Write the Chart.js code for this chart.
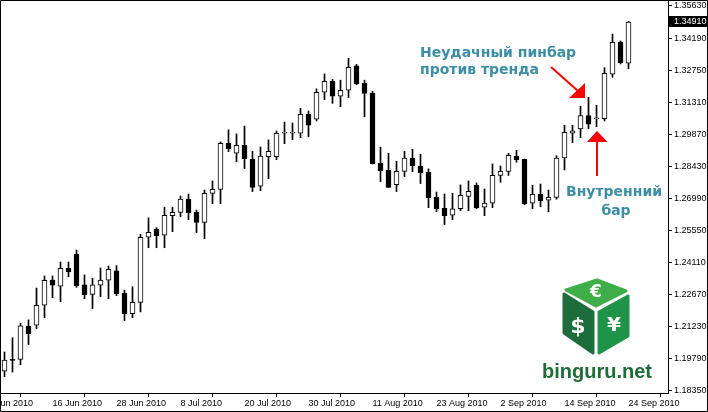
<!DOCTYPE html>
<html lang="ru">

<head>
    <meta charset="UTF-8">
    <title>EUR/USD D1</title>
    <style>
        body {
            margin: 0;
            padding: 0;
            background: #fff;
        }

        #wrap {
            width: 708px;
            height: 412px;
        }
    </style>
</head>

<body>
    <div id="wrap">
        <canvas id="chart" width="708" height="412"></canvas>
    </div>

    <script src="https://cdn.jsdelivr.net/npm/chart.js"></script>
    <script>
        // daily bars, 8 Jun 2010 - 24 Sep 2010
        const dates = [
            '8 Jun', '9 Jun', '10 Jun', '11 Jun', '14 Jun', '15 Jun', '16 Jun', '17 Jun', '18 Jun', '21 Jun',
            '22 Jun', '23 Jun', '24 Jun', '25 Jun', '28 Jun', '29 Jun', '30 Jun', '1 Jul', '2 Jul', '5 Jul',
            '6 Jul', '7 Jul', '8 Jul', '9 Jul', '12 Jul', '13 Jul', '14 Jul', '15 Jul', '16 Jul', '19 Jul',
            '20 Jul', '21 Jul', '22 Jul', '23 Jul', '26 Jul', '27 Jul', '28 Jul', '29 Jul', '30 Jul', '2 Aug',
            '3 Aug', '4 Aug', '5 Aug', '6 Aug', '9 Aug', '10 Aug', '11 Aug', '12 Aug', '13 Aug', '16 Aug',
            '17 Aug', '18 Aug', '19 Aug', '20 Aug', '23 Aug', '24 Aug', '25 Aug', '26 Aug', '27 Aug', '30 Aug',
            '31 Aug', '1 Sep', '2 Sep', '3 Sep', '6 Sep', '7 Sep', '8 Sep', '9 Sep', '10 Sep', '13 Sep',
            '14 Sep', '15 Sep', '16 Sep', '17 Sep', '20 Sep', '21 Sep', '22 Sep', '23 Sep', '24 Sep'
        ];

        const opens = [
            1.1924, 1.1977, 1.1977, 1.2126, 1.2130, 1.2220, 1.2333, 1.2305, 1.2386, 1.2449,
            1.2311, 1.2269, 1.2310, 1.2332, 1.2374, 1.2275, 1.2182, 1.2233, 1.2525, 1.2562,
            1.2534, 1.2622, 1.2637, 1.2696, 1.2637, 1.2592, 1.2722, 1.2740, 1.2947, 1.2902,
            1.2938, 1.2875, 1.2754, 1.2887, 1.2887, 1.2992, 1.2992, 1.2992, 1.3077, 1.3055,
            1.3176, 1.3225, 1.3158, 1.3185, 1.3294, 1.3216, 1.3171, 1.2857, 1.2826, 1.2761,
            1.2821, 1.2880, 1.2844, 1.2817, 1.2704, 1.2655, 1.2624, 1.2653, 1.2708, 1.2758,
            1.2660, 1.2678, 1.2803, 1.2821, 1.2889, 1.2875, 1.2678, 1.2718, 1.2692, 1.2704,
            1.2881, 1.2992, 1.3011, 1.3071, 1.3057, 1.3057, 1.3257, 1.3400, 1.3306
        ];
        const highs = [
            1.2010, 1.2074, 1.2139, 1.2154, 1.2297, 1.2351, 1.2351, 1.2414, 1.2414, 1.2468,
            1.2356, 1.2341, 1.2387, 1.2396, 1.2398, 1.2288, 1.2303, 1.2538, 1.2612, 1.2568,
            1.2660, 1.2660, 1.2710, 1.2719, 1.2647, 1.2737, 1.2778, 1.2953, 1.3007, 1.2989,
            1.3024, 1.2911, 1.2930, 1.2962, 1.3002, 1.3042, 1.3038, 1.3104, 1.3092, 1.3191,
            1.3258, 1.3234, 1.3230, 1.3328, 1.3301, 1.3230, 1.3180, 1.2929, 1.2902, 1.2866,
            1.2911, 1.2920, 1.2897, 1.2832, 1.2728, 1.2719, 1.2722, 1.2760, 1.2778, 1.2769,
            1.2742, 1.2854, 1.2845, 1.2902, 1.2915, 1.2876, 1.2758, 1.2764, 1.2737, 1.2891,
            1.3028, 1.3028, 1.3113, 1.3153, 1.3117, 1.3286, 1.3437, 1.3406, 1.3494
        ];
        const lows = [
            1.1899, 1.1920, 1.1953, 1.2043, 1.2115, 1.2164, 1.2254, 1.2236, 1.2348, 1.2300,
            1.2249, 1.2205, 1.2258, 1.2249, 1.2263, 1.2151, 1.2164, 1.2190, 1.2478, 1.2478,
            1.2478, 1.2550, 1.2617, 1.2604, 1.2546, 1.2519, 1.2676, 1.2676, 1.2909, 1.2864,
            1.2833, 1.2730, 1.2734, 1.2788, 1.2873, 1.2945, 1.2963, 1.2972, 1.2976, 1.3047,
            1.3143, 1.3126, 1.3111, 1.3152, 1.3210, 1.3066, 1.2854, 1.2775, 1.2748, 1.2730,
            1.2797, 1.2819, 1.2766, 1.2658, 1.2640, 1.2582, 1.2604, 1.2644, 1.2644, 1.2653,
            1.2622, 1.2658, 1.2772, 1.2803, 1.2862, 1.2671, 1.2653, 1.2662, 1.2639, 1.2696,
            1.2827, 1.2950, 1.2972, 1.3012, 1.3021, 1.3047, 1.3243, 1.3303, 1.3282
        ];
        const closes = [
            1.1974, 1.1972, 1.2127, 1.2092, 1.2220, 1.2332, 1.2310, 1.2386, 1.2370, 1.2308,
            1.2267, 1.2311, 1.2333, 1.2381, 1.2272, 1.2182, 1.2233, 1.2525, 1.2547, 1.2532,
            1.2624, 1.2637, 1.2696, 1.2635, 1.2592, 1.2722, 1.2740, 1.2947, 1.2923, 1.2938,
            1.2878, 1.2749, 1.2889, 1.2911, 1.2992, 1.2992, 1.2993, 1.3077, 1.3028, 1.3176,
            1.3225, 1.3158, 1.3185, 1.3288, 1.3213, 1.3171, 1.2855, 1.2824, 1.2749, 1.2821,
            1.2880, 1.2846, 1.2815, 1.2703, 1.2653, 1.2622, 1.2653, 1.2713, 1.2731, 1.2658,
            1.2678, 1.2803, 1.2821, 1.2893, 1.2873, 1.2676, 1.2718, 1.2689, 1.2704, 1.2880,
            1.2996, 1.3003, 1.3071, 1.3033, 1.3058, 1.3261, 1.3400, 1.3309, 1.3491
        ];

        // date axis: bar index -> label (first one is cut off at the left edge)
        const tickBars = [-2, 6, 14, 22, 30, 38, 46, 54, 62, 70, 78];
        const tickLabels = ['4 Jun 2010', '16 Jun 2010', '28 Jun 2010', '8 Jul 2010', '20 Jul 2010',
            '30 Jul 2010', '11 Aug 2010', '23 Aug 2010', '2 Sep 2010', '14 Sep 2010', '24 Sep 2010'];

        // price axis
        const priceTicks = [1.18350, 1.19790, 1.21230, 1.22670, 1.24110, 1.25550, 1.26990,
            1.28430, 1.29870, 1.31310, 1.32750, 1.34190, 1.35630];

        Chart.defaults.font.family = '"Liberation Sans", Arial, sans-serif';
        Chart.defaults.font.size = 9;
        Chart.defaults.color = '#000';

        const wicks = highs.map((h, i) => ({ x: i, y: [lows[i], h] }));
        const bodies = opens.map((o, i) => ({ x: i, y: [o, closes[i]] }));
        const bodyFill = opens.map((o, i) => closes[i] >= o ? '#fff' : '#000');

        // annotations, arrows, logo, price label, frame
        const overlay = {
            id: 'overlay',
            afterDraw(chart) {
                const ctx = chart.ctx;
                const ys = chart.scales.y;
                ctx.save();

                // current price marker
                const last = closes[closes.length - 1];
                const py = Math.round(ys.getPixelForValue(last));
                ctx.fillStyle = '#000';
                ctx.fillRect(669, py - 6, 39, 11);
                ctx.fillStyle = '#fff';
                ctx.font = '9px "Liberation Sans", Arial, sans-serif';
                ctx.textBaseline = 'middle';
                ctx.textAlign = 'left';
                ctx.fillText(last.toFixed(5), 674, py);

                // texts
                ctx.fillStyle = '#3b8ea5';
                ctx.font = 'bold 14px "DejaVu Sans", sans-serif';
                ctx.textBaseline = 'alphabetic';
                ctx.fillText('Неудачный пинбар', 420, 57);
                ctx.fillText('против тренда', 420, 74);
                ctx.textAlign = 'center';
                ctx.fillText('Внутренний', 614, 196);
                ctx.fillText('бар', 616, 215);

                // red arrows
                ctx.strokeStyle = '#ff0000';
                ctx.fillStyle = '#ff0000';
                ctx.lineWidth = 2;
                ctx.beginPath();
                ctx.moveTo(551, 67);
                ctx.lineTo(578, 91);
                ctx.stroke();
                ctx.beginPath();
                ctx.moveTo(569, 98);
                ctx.lineTo(585, 98);
                ctx.lineTo(585, 83);
                ctx.closePath();
                ctx.fill();

                ctx.beginPath();
                ctx.moveTo(597, 176);
                ctx.lineTo(597, 141);
                ctx.stroke();
                ctx.beginPath();
                ctx.moveTo(587, 142);
                ctx.lineTo(607.5, 142);
                ctx.lineTo(597, 131);
                ctx.closePath();
                ctx.fill();

                // logo cube
                const face = (pts, col) => {
                    ctx.beginPath();
                    ctx.moveTo(pts[0][0], pts[0][1]);
                    for (let k = 1; k < pts.length; k++) ctx.lineTo(pts[k][0], pts[k][1]);
                    ctx.closePath();
                    ctx.fillStyle = col;
                    ctx.strokeStyle = col;
                    ctx.lineJoin = 'round';
                    ctx.lineWidth = 3;
                    ctx.fill();
                    ctx.stroke();
                };
                face([[597, 280], [626, 291], [596, 306], [566, 290]], '#3fae4a');
                face([[564, 294], [593, 312], [593, 353], [564, 333]], '#1c6d3b');
                face([[599, 312], [628, 296], [628, 336], [599, 353]], '#1f9347');

                ctx.fillStyle = '#fff';
                ctx.textAlign = 'center';
                ctx.textBaseline = 'middle';
                ctx.font = 'bold 17px "DejaVu Sans", sans-serif';
                ctx.fillText('€', 596, 293);
                ctx.font = 'bold 22px "DejaVu Sans", sans-serif';
                ctx.fillText('$', 578, 327);
                ctx.font = 'bold 20px "DejaVu Sans", sans-serif';
                ctx.fillText('¥', 614, 326);

                ctx.fillStyle = '#1d6b37';
                ctx.font = 'bold 20px "Liberation Sans", Arial, sans-serif';
                ctx.textBaseline = 'alphabetic';
                ctx.fillText('binguru.net', 597, 378);

                // frame
                ctx.strokeStyle = '#000';
                ctx.lineWidth = 1;
                ctx.strokeRect(0.5, 0.5, 707, 411);
                ctx.restore();
            }
        };

        new Chart(document.getElementById('chart'), {
            type: 'bar',
            data: {
                datasets: [
                    {
                        label: 'body',
                        data: bodies,
                        backgroundColor: bodyFill,
                        borderColor: '#000',
                        borderWidth: 1,
                        borderSkipped: false,
                        barThickness: 5,
                        minBarLength: 1,
                        grouped: false
                    },
                    {
                        label: 'wick',
                        data: wicks,
                        backgroundColor: '#000',
                        borderWidth: 0,
                        barThickness: 1,
                        grouped: false
                    }
                ]
            },
            options: {
                responsive: false,
                animation: false,
                layout: { padding: { top: 1, left: 0, right: 0, bottom: 0 } },
                plugins: {
                    legend: { display: false },
                    tooltip: { enabled: false }
                },
                scales: {
                    x: {
                        type: 'linear',
                        offset: false,
                        min: -0.5625,
                        max: 82.9375,
                        afterFit: (s) => {
                            s.height = 19;
                            s.paddingLeft = 0;
                            s.paddingRight = 0;
                        },
                        afterBuildTicks: (s) => { s.ticks = tickBars.map(v => ({ value: v })); },
                        grid: { display: true, drawOnChartArea: false, drawTicks: true, tickLength: 4, color: '#000' },
                        border: { display: true, color: '#000' },
                        ticks: {
                            autoSkip: false,
                            maxRotation: 0,
                            align: 'start',
                            padding: 1,
                            callback: (v) => tickLabels[tickBars.indexOf(v)]
                        }
                    },
                    y: {
                        position: 'right',
                        min: 1.182602,
                        max: 1.358544,
                        afterFit: (s) => {
                            s.width = 40;
                            s.paddingTop = 0;
                            s.paddingBottom = 0;
                        },
                        afterBuildTicks: (s) => { s.ticks = priceTicks.map(v => ({ value: v })); },
                        grid: { display: true, drawOnChartArea: false, drawTicks: true, tickLength: 4, color: '#000' },
                        border: { display: true, color: '#000' },
                        ticks: {
                            autoSkip: false,
                            padding: 2,
                            callback: (v) => v.toFixed(5)
                        }
                    }
                }
            },
            plugins: [overlay]
        });
    </script>
</body>

</html>
